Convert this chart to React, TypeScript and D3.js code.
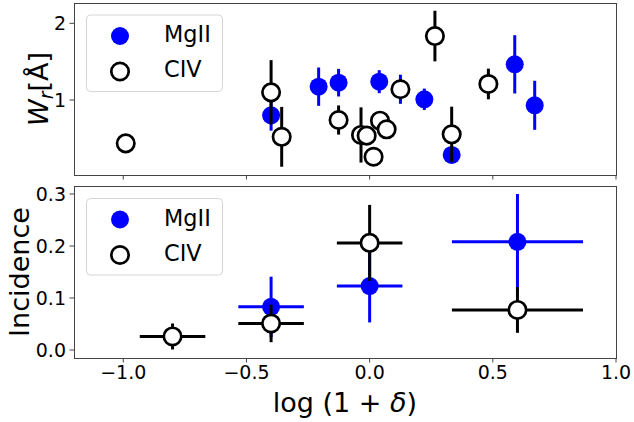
import React from "react";
import * as d3 from "d3";

// ---------- data ----------
// top panel: equivalent width W_r vs log(1+delta)
const topMgX = [-0.40, -0.207, -0.126, 0.039, 0.125, 0.222, 0.333, 0.589, 0.670];
const topMgY = [0.80, 1.174, 1.226, 1.239, 1.14, 1.009, 0.283, 1.465, 0.931];
const topMgErr = [0.20, 0.25, 0.18, 0.15, 0.19, 0.14, 0.10, 0.38, 0.32];

const topCivX = [-0.99, -0.40, -0.357, -0.126, -0.035, -0.012, 0.016, 0.042, 0.069, 0.125, 0.265, 0.333, 0.482];
const topCivY = [0.435, 1.10, 0.52, 0.739, 0.544, 0.535, 0.26, 0.73, 0.618, 1.14, 1.834, 0.553, 1.209];
const topCivErr = [0.04, 0.42, 0.39, 0.19, 0.36, 0.06, 0.05, 0.06, 0.06, 0.13, 0.33, 0.36, 0.20];

// bottom panel: incidence
const botMgX = [-0.4, 0.0, 0.6];
const botMgY = [0.083, 0.123, 0.208];
const botMgXerr = [0.133, 0.133, 0.266];
const botMgYerr = [0.058, 0.07, 0.092];

const botCivX = [-0.8, -0.4, 0.0, 0.6];
const botCivY = [0.026, 0.051, 0.206, 0.077];
const botCivXerr = [0.133, 0.133, 0.133, 0.266];
const botCivYerr = [0.025, 0.036, 0.073, 0.044];

const xTicks = [-1.0, -0.5, 0.0, 0.5, 1.0];
const topYTicks = [1, 2];
const botYTicks = [0.0, 0.1, 0.2, 0.3];

const seriesNames = ["MgII", "CIV"];

// ---------- layout ----------
const W = 634;
const H = 422;
const L = 74;
const R = 616;
const topT = 3;
const topB = 175;
const botT = 186;
const botB = 358;

const FONT = "DejaVu Sans";
const BLUE = "#0000ff";
const SPINE = "#444";
const MR = 9;
const ELW = 3;
const TICKFS = 19;

const x = d3.scaleLinear().domain([-1.2, 1.0]).range([L, R]);
const yTop = d3.scaleLinear().domain([0.022, 2.265]).range([topB, topT]);
const yBot = d3.scaleLinear().domain([-0.0154, 0.3154]).range([botB, botT]);

const fmtX = (v: number) => d3.format(".1f")(v).replace("-", "\u2212");

function Spines({ t, b }: { t: number; b: number }) {
  return (
    <rect x={L} y={t} width={R - L} height={b - t} fill="none" stroke={SPINE} strokeWidth={1} shapeRendering="crispEdges" />
  );
}

function Legend({ top }: { top: number }) {
  const lx = 86.5;
  return (
    <g>
      <rect x={lx} y={top} width={136} height={76.5} rx={4} fill="white" fillOpacity={0.8} stroke="#d6d6d6" strokeWidth={1} />
      <circle cx={120} cy={top + 21} r={MR} fill={BLUE} />
      <text x={164} y={top + 27} fontSize={22.4} fontFamily={FONT} fill="black">{seriesNames[0]}</text>
      <circle cx={120} cy={top + 56.5} r={MR - 0.3} fill="white" stroke="black" strokeWidth={2.7} />
      <text x={164} y={top + 62} fontSize={22.4} fontFamily={FONT} fill="black">{seriesNames[1]}</text>
    </g>
  );
}

function Series({
  xs, ys, yerr, xerr, color, filled, ys2,
}: {
  xs: number[]; ys: number[]; yerr: number[]; xerr?: number[]; color: string; filled: boolean;
  ys2: d3.ScaleLinear<number, number>;
}) {
  return (
    <g>
      {xs.map((xv, i) => (
        <g key={"e" + i}>
          <line x1={x(xv)} x2={x(xv)} y1={ys2(ys[i] - yerr[i])} y2={ys2(ys[i] + yerr[i])} stroke={color} strokeWidth={ELW} />
          {xerr ? (
            <line x1={x(xv - xerr[i])} x2={x(xv + xerr[i])} y1={ys2(ys[i])} y2={ys2(ys[i])} stroke={color} strokeWidth={ELW} />
          ) : null}
        </g>
      ))}
      {xs.map((xv, i) =>
        filled ? (
          <circle key={"m" + i} cx={x(xv)} cy={ys2(ys[i])} r={MR} fill={color} />
        ) : (
          <circle key={"m" + i} cx={x(xv)} cy={ys2(ys[i])} r={MR - 0.3} fill="white" stroke={color} strokeWidth={2.7} />
        )
      )}
    </g>
  );
}

export default function App() {
  return (
    <svg width={W} height={H} style={{ position: "absolute", left: 0, top: 0, background: "white" }} fontFamily={FONT}>
      <rect x={0} y={0} width={W} height={H} fill="white" />

      {/* ---------- top panel ---------- */}
      <g>
        <Series xs={topMgX} ys={topMgY} yerr={topMgErr} color={BLUE} filled ys2={yTop} />
        <Series xs={topCivX} ys={topCivY} yerr={topCivErr} color="black" filled={false} ys2={yTop} />
        <Spines t={topT} b={topB} />
        {xTicks.map((t) => (
          <line key={"txt" + t} x1={x(t)} x2={x(t)} y1={topB} y2={topB + 4.5} stroke={SPINE} strokeWidth={1} />
        ))}
        {topYTicks.map((t) => (
          <g key={"tyt" + t}>
            <line x1={L - 4.5} x2={L} y1={yTop(t)} y2={yTop(t)} stroke={SPINE} strokeWidth={1} />
            <text x={L - 8} y={yTop(t)} dy="0.36em" textAnchor="end" fontSize={TICKFS} fill="black">{String(t)}</text>
          </g>
        ))}
        <Legend top={15} />
        <text transform={`translate(${48},${(topT + topB) / 2}) rotate(-90)`} textAnchor="middle" fontSize={27} fill="black">
          <tspan fontStyle="italic">W</tspan>
          <tspan fontStyle="italic" fontSize={19} dy={5}>r</tspan>
          <tspan dy={-5}>[Å]</tspan>
        </text>
      </g>

      {/* ---------- bottom panel ---------- */}
      <g>
        <Series xs={botMgX} ys={botMgY} yerr={botMgYerr} xerr={botMgXerr} color={BLUE} filled ys2={yBot} />
        <Series xs={botCivX} ys={botCivY} yerr={botCivYerr} xerr={botCivXerr} color="black" filled={false} ys2={yBot} />
        <Spines t={botT} b={botB} />
        {xTicks.map((t) => (
          <g key={"bxt" + t}>
            <line x1={x(t)} x2={x(t)} y1={botB} y2={botB + 4.5} stroke={SPINE} strokeWidth={1} />
            <text x={x(t)} y={379} textAnchor="middle" fontSize={TICKFS} fill="black">{fmtX(t)}</text>
          </g>
        ))}
        {botYTicks.map((t) => (
          <g key={"byt" + t}>
            <line x1={L - 4.5} x2={L} y1={yBot(t)} y2={yBot(t)} stroke={SPINE} strokeWidth={1} />
            <text x={L - 8} y={yBot(t)} dy="0.36em" textAnchor="end" fontSize={TICKFS} fill="black">{d3.format(".1f")(t)}</text>
          </g>
        ))}
        <Legend top={198.5} />
        <text transform={`translate(${29},${(botT + botB) / 2}) rotate(-90)`} textAnchor="middle" fontSize={27} fill="black">
          Incidence
        </text>
      </g>

      {/* x label */}
      <text x={(L + R) / 2} y={412} textAnchor="middle" fontSize={27} fill="black">
        <tspan>log (1 + </tspan>
        <tspan fontStyle="italic">δ</tspan>
        <tspan>)</tspan>
      </text>
    </svg>
  );
}
